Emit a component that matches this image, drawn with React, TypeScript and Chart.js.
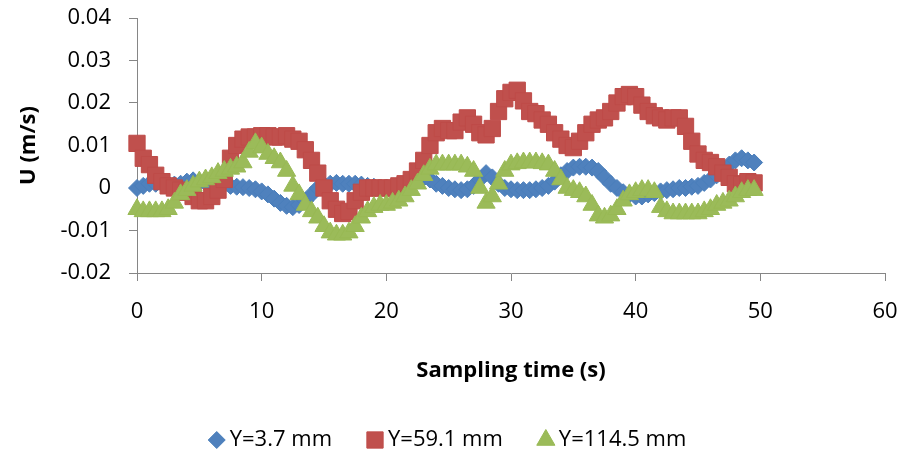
import React, { useEffect, useRef } from "react";
import { Chart, registerables } from "chart.js";

Chart.register(...registerables);

const times = [
  0, 0.5, 1, 1.5, 2, 2.5, 3, 3.5, 4, 4.5, 5, 5.5, 6, 6.5, 7, 7.5, 8, 8.5, 9, 9.5,
  10, 10.5, 11, 11.5, 12, 12.5, 13, 13.5, 14, 14.5, 15, 15.5, 16, 16.5, 17, 17.5, 18, 18.5, 19, 19.5,
  20, 20.5, 21, 21.5, 22, 22.5, 23, 23.5, 24, 24.5, 25, 25.5, 26, 26.5, 27, 27.5, 28, 28.5, 29, 29.5,
  30, 30.5, 31, 31.5, 32, 32.5, 33, 33.5, 34, 34.5, 35, 35.5, 36, 36.5, 37, 37.5, 38, 38.5, 39, 39.5,
  40, 40.5, 41, 41.5, 42, 42.5, 43, 43.5, 44, 44.5, 45, 45.5, 46, 46.5, 47, 47.5, 48, 48.5, 49, 49.5,
];

const seriesY37 = [
  0, 0.0005, 0.001, 0.001, 0.0012, 0.001, 0.0008, 0.001, 0.0015, 0.0018,
  0.0015, 0.0012, 0.001, 0.001, 0.0008, 0.0005, 0.0003, 0.0002, 0, -0.0003,
  -0.0008, -0.0015, -0.0025, -0.0035, -0.0042, -0.0045, -0.004, -0.003, -0.0015, 0,
  0.0008, 0.001, 0.0012, 0.001, 0.001, 0.001, 0.0008, 0.0005, 0.0003, 0,
  0, 0.0002, 0.0005, 0.0012, 0.002, 0.0024, 0.0024, 0.002, 0.001, 0.0005,
  0, -0.0003, -0.0005, -0.0003, 0.0005, 0.002, 0.0035, 0.0025, 0.001, 0,
  -0.0003, -0.0005, -0.0005, -0.0005, -0.0003, 0, 0.0005, 0.0015, 0.003, 0.004,
  0.0048, 0.005, 0.005, 0.0048, 0.004, 0.0025, 0.001, 0, -0.001, -0.0015,
  -0.002, -0.002, -0.0015, -0.0012, -0.0008, -0.0005, -0.0003, 0, 0, 0.0003,
  0.0005, 0.0012, 0.002, 0.003, 0.004, 0.0055, 0.0065, 0.007, 0.0065, 0.006,
];

const seriesY591 = [
  0.0105, 0.007, 0.0055, 0.003, 0.0015, 0.0005, 0, -0.0005, -0.001, -0.002,
  -0.003, -0.003, -0.002, -0.0005, 0.002, 0.007, 0.01, 0.0115, 0.012, 0.012,
  0.0123, 0.0123, 0.012, 0.012, 0.0123, 0.0115, 0.011, 0.009, 0.0065, 0.0035,
  0, -0.003, -0.005, -0.006, -0.0055, -0.003, -0.001, 0, 0, 0,
  0, 0, 0.0005, 0.001, 0.002, 0.004, 0.0065, 0.01, 0.013, 0.014,
  0.0135, 0.0135, 0.0155, 0.0165, 0.015, 0.013, 0.0125, 0.014, 0.018, 0.021,
  0.0225, 0.023, 0.0205, 0.018, 0.0175, 0.016, 0.015, 0.013, 0.0115, 0.01,
  0.0095, 0.011, 0.013, 0.015, 0.016, 0.0165, 0.018, 0.02, 0.0215, 0.022,
  0.0215, 0.0195, 0.018, 0.017, 0.0165, 0.016, 0.0165, 0.0165, 0.0145, 0.011,
  0.008, 0.0065, 0.006, 0.005, 0.0035, 0.0025, 0.001, 0.0008, 0.0015, 0.0012,
];

const seriesY1145 = [
  -0.005, -0.0055, -0.0055, -0.0055, -0.0055, -0.005, -0.0035, -0.0015, -0.0005, 0.0005,
  0.0015, 0.002, 0.0025, 0.0035, 0.004, 0.0045, 0.005, 0.006, 0.0085, 0.0105,
  0.0095, 0.008, 0.007, 0.006, 0.004, 0.0005, -0.0015, -0.004, -0.0055, -0.007,
  -0.009, -0.0105, -0.011, -0.011, -0.0105, -0.009, -0.007, -0.0055, -0.0045, -0.004,
  -0.004, -0.0035, -0.003, -0.002, -0.0005, 0.001, 0.003, 0.0045, 0.0055, 0.0055,
  0.0055, 0.0055, 0.0055, 0.005, 0.004, 0, -0.0035, -0.002, 0.001, 0.004,
  0.0055, 0.0058, 0.006, 0.006, 0.006, 0.0058, 0.0055, 0.004, 0.002, 0,
  -0.0005, -0.001, -0.002, -0.004, -0.0065, -0.007, -0.0065, -0.005, -0.003, -0.0015,
  -0.001, -0.0005, -0.0005, -0.001, -0.0045, -0.0055, -0.006, -0.006, -0.006, -0.006,
  -0.006, -0.0055, -0.005, -0.004, -0.0035, -0.003, -0.002, -0.001, -0.0005, -0.0005,
];

const seriesNames = ["Y=3.7 mm", "Y=59.1 mm", "Y=114.5 mm"];
const xTickValues = [0, 10, 20, 30, 40, 50, 60];
const xTickLabels = ["0", "10", "20", "30", "40", "50", "60"];
const yTickValues = [-0.02, -0.01, 0, 0.01, 0.02, 0.03, 0.04];
const yTickLabels = ["-0.02", "-0.01", "0", "0.01", "0.02", "0.03", "0.04"];
const xTitle = "Sampling time (s)";
const yTitle = "U (m/s)";

const FONT = "'Open Sans', 'Liberation Sans', sans-serif";
const W = 900;
const H = 457;

function toPoints(vals: number[]) {
  return vals.map((v, i) => ({ x: times[i], y: v }));
}

function drawMarker(ctx: CanvasRenderingContext2D, style: string, x: number, y: number, r: number) {
  ctx.beginPath();
  if (style === "rectRot") {
    ctx.moveTo(x, y - r);
    ctx.lineTo(x + r, y);
    ctx.lineTo(x, y + r);
    ctx.lineTo(x - r, y);
  } else if (style === "rect") {
    const s = Math.SQRT1_2 * r;
    ctx.rect(x - s, y - s, 2 * s, 2 * s);
  } else {
    const a = (2 * Math.PI) / 3;
    ctx.moveTo(x, y - r);
    ctx.lineTo(x + Math.sin(a) * r, y - Math.cos(a) * r);
    ctx.lineTo(x + Math.sin(2 * a) * r, y - Math.cos(2 * a) * r);
  }
  ctx.closePath();
  ctx.fill();
  ctx.stroke();
}

const legendPlugin = {
  id: "customLegend",
  afterDraw(chart: any) {
    const ctx = chart.ctx;
    ctx.save();
    ctx.font = `22px ${FONT}`;
    ctx.textBaseline = "middle";
    const y = 440;
    const markerW = 18;
    const gapMarkerText = 4;
    const gapItems = 34;
    const items = chart.data.datasets.map((d: any) => ({
      ds: d,
      w: markerW + gapMarkerText + ctx.measureText(d.label).width,
    }));
    const total = items.reduce((s: number, it: any) => s + it.w, 0) + gapItems * (items.length - 1);
    let x = 447 - total / 2;
    items.forEach((it: any) => {
      const d = it.ds;
      ctx.fillStyle = d.pointBackgroundColor;
      ctx.strokeStyle = d.pointBorderColor;
      ctx.lineWidth = 1;
      drawMarker(ctx, d.pointStyle, x + markerW / 2, y, d.pointRadius);
      ctx.fillStyle = "#000";
      ctx.textAlign = "left";
      ctx.fillText(d.label, x + markerW + gapMarkerText, y);
      x += it.w + gapItems;
    });
    ctx.restore();
  },
};

export default function App() {
  const ref = useRef<HTMLCanvasElement | null>(null);

  useEffect(() => {
    if (!ref.current) return;
    const chart = new Chart(ref.current, {
      type: "scatter",
      data: {
        datasets: [
          {
            label: seriesNames[0],
            data: toPoints(seriesY37),
            pointStyle: "rectRot",
            pointRadius: 8.5,
            pointBackgroundColor: "#4F81BD",
            pointBorderColor: "#4A7EBB",
            pointBorderWidth: 1,
            showLine: false,
            order: 3,
            clip: false,
          } as any,
          {
            label: seriesNames[1],
            data: toPoints(seriesY591),
            pointStyle: "rect",
            pointRadius: 11.5,
            pointBackgroundColor: "#C0504D",
            pointBorderColor: "#BE4B48",
            pointBorderWidth: 1,
            showLine: false,
            order: 2,
            clip: false,
          } as any,
          {
            label: seriesNames[2],
            data: toPoints(seriesY1145),
            pointStyle: "triangle",
            pointRadius: 10.5,
            pointBackgroundColor: "#9BBB59",
            pointBorderColor: "#98B954",
            pointBorderWidth: 1,
            showLine: false,
            order: 1,
            clip: false,
          } as any,
        ],
      },
      options: {
        responsive: false,
        animation: false,
        events: [],
        layout: { padding: { left: 0, right: 15, top: 18, bottom: 0 } },
        plugins: {
          legend: { display: false },
          tooltip: { enabled: false },
        },
        scales: {
          x: {
            type: "linear",
            min: 0,
            max: 60,
            afterBuildTicks: (scale: any) => {
              scale.ticks = xTickValues.map((v) => ({ value: v }));
            },
            afterFit: (scale: any) => {
              scale.height = H - 273;
              scale.paddingLeft = 0;
              scale.paddingRight = 0;
            },
            ticks: {
              autoSkip: false,
              maxRotation: 0,
              padding: 18,
              color: "#000",
              font: { family: FONT, size: 22 },
              callback: (v: any) => {
                const i = xTickValues.indexOf(Number(v));
                return i >= 0 ? xTickLabels[i] : "";
              },
            },
            grid: {
              display: true,
              drawOnChartArea: false,
              drawTicks: true,
              tickLength: 8,
              color: "#868686",
              lineWidth: 1,
            },
            border: { display: true, color: "#868686", width: 1 },
            title: {
              display: true,
              text: xTitle,
              color: "#000",
              font: { family: FONT, size: 22, weight: "bold" },
              padding: { top: 0, bottom: 73 },
            },
          },
          y: {
            type: "linear",
            min: -0.02,
            max: 0.04,
            afterBuildTicks: (scale: any) => {
              scale.ticks = yTickValues.map((v) => ({ value: v }));
            },
            afterFit: (scale: any) => {
              scale.width = 137;
              scale.paddingTop = 0;
              scale.paddingBottom = 0;
            },
            ticks: {
              autoSkip: false,
              padding: 18,
              color: "#000",
              font: { family: FONT, size: 22 },
              callback: (v: any) => {
                let best = 0;
                yTickValues.forEach((tv, i) => {
                  if (Math.abs(tv - Number(v)) < Math.abs(yTickValues[best] - Number(v))) best = i;
                });
                return yTickLabels[best];
              },
            },
            grid: {
              display: true,
              drawOnChartArea: false,
              drawTicks: true,
              tickLength: 8,
              color: "#868686",
              lineWidth: 1,
            },
            border: { display: true, color: "#868686", width: 1 },
            title: {
              display: true,
              text: yTitle,
              color: "#000",
              font: { family: FONT, size: 22, weight: "bold" },
              padding: { top: 16, bottom: 0 },
            },
          },
        },
      },
      plugins: [legendPlugin],
    });
    return () => chart.destroy();
  }, []);

  return (
    <div style={{ position: "fixed", left: 0, top: 0, width: W, height: H, background: "#fff" }}>
      <canvas ref={ref} width={W} height={H} style={{ width: W, height: H, display: "block" }} />
    </div>
  );
}
